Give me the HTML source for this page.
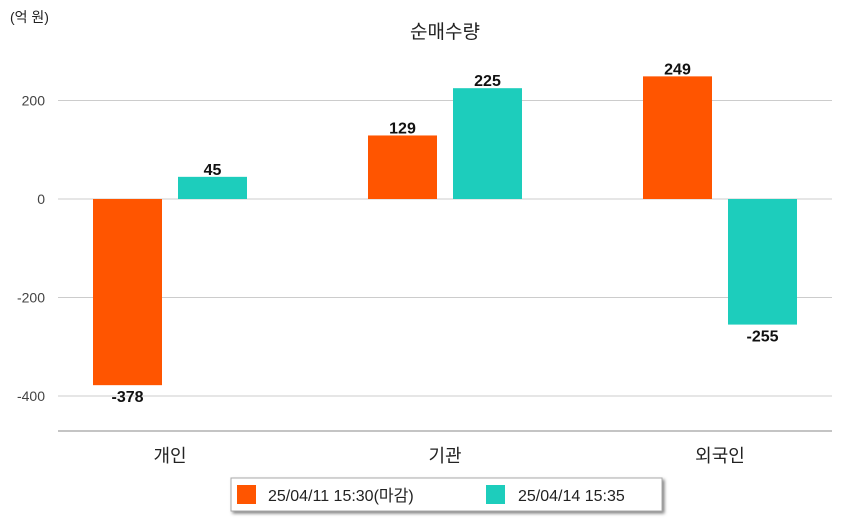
<!DOCTYPE html>
<html><head><meta charset="utf-8"><style>
body{margin:0;background:#fff;font-family:"Liberation Sans","Noto Sans CJK KR",sans-serif;}
</style></head><body>
<svg width="842" height="520" xmlns="http://www.w3.org/2000/svg" style="display:block">
<defs><filter id="sh" x="-10%" y="-20%" width="130%" height="160%"><feDropShadow dx="2" dy="2" stdDeviation="1.5" flood-color="#000" flood-opacity="0.5"/></filter></defs>
<text x="10" y="22" font-size="14" fill="#222">(억 원)</text>
<text x="445" y="38" font-size="19" text-anchor="middle" fill="#222">순매수량</text>
<g id="grid"></g><g id="bars"></g>
<line x1="58" y1="431" x2="832" y2="431" stroke="#888" stroke-width="1"/>
<g>
<rect x="231" y="478" width="431" height="33" fill="#fff" stroke="#aaa" filter="url(#sh)"/>
<rect x="237" y="485" width="19" height="19" fill="#ff5500"/>
<text x="268" y="501" font-size="16" fill="#222">25/04/11 15:30(마감)</text>
<rect x="486" y="485" width="19" height="19" fill="#1dcdbc"/>
<text x="518" y="501" font-size="16" fill="#222">25/04/14 15:35</text>
</g>
</svg>
<script>
const categories=["개인","기관","외국인"];
const series1=[-378,129,249];
const series2=[45,225,-255];
const yTicks=[200,0,-200,-400];
const NS="http://www.w3.org/2000/svg";
const y=v=>199-v*0.4925;
const cx=i=>170+i*275;
const grid=document.getElementById('grid'),bars=document.getElementById('bars');
function mk(tag,attrs,parent){const e=document.createElementNS(NS,tag);for(const k in attrs)e.setAttribute(k,attrs[k]);parent.appendChild(e);return e;}
yTicks.forEach(t=>{
 const l=mk('line',{x1:58,x2:832,y1:y(t),y2:y(t),stroke:'#ccc'},grid);
 
 
 const tx=mk('text',{x:45,y:y(t)+5,'font-size':14,'text-anchor':'end',fill:'#444'},grid);
 tx.textContent=t;
 
 
});
categories.forEach((c,i)=>{
 const t=mk('text',{x:cx(i),y:462,'font-size':18,'text-anchor':'middle',fill:'#222'},grid);
 t.textContent=c;
 
 
 [[series1,'#ff5500',-42.5],[series2,'#1dcdbc',42.5]].forEach(([s,col,off],k)=>{
  const v=s[i],x0=cx(i)+off-34.5;
  const r=mk('rect',{x:x0,y:Math.min(y(v),y(0)),width:69,height:Math.abs(y(v)-y(0)),fill:col},bars);
  
  
  const lb=mk('text',{x:x0+34.5,y:v>=0?y(v)-2:y(v)+17,'font-size':16,'font-weight':'bold','text-anchor':'middle',fill:'#111'},bars);
  lb.textContent=v;
  
  
 });
});
</script>
</body></html>
